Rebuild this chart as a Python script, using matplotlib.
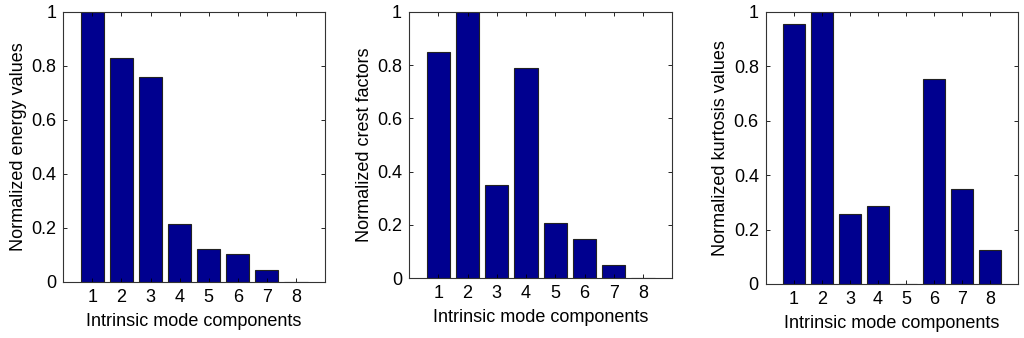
import numpy as np
import matplotlib
matplotlib.use("Agg")
import matplotlib.pyplot as plt

# =========================
# DATA
# =========================
components = [1, 2, 3, 4, 5, 6, 7, 8]
energy = [1.0, 0.827, 0.759, 0.212, 0.120, 0.102, 0.043, 0.0]
crest = [0.848, 1.0, 0.349, 0.788, 0.209, 0.148, 0.050, 0.0]
kurtosis = [0.954, 1.0, 0.258, 0.286, 0.0, 0.753, 0.349, 0.126]

ylabels = ["Normalized energy values",
           "Normalized crest factors",
           "Normalized kurtosis values"]
xlabel = "Intrinsic mode components"

BAR_COLOR = "#00008F"

plt.rcParams["font.family"] = ["Liberation Sans", "DejaVu Sans"]

fig = plt.figure(figsize=(10.24, 3.38), dpi=100)
W, H = 1024.0, 338.0
# axes boxes in pixels: left, top, right, bottom
boxes = [(63.3, 11.7, 325.0, 281.7),
         (409.0, 11.7, 672.3, 278.3),
         (765.7, 11.7, 1018.3, 284.0)]

for (l, t, r, b), vals, yl in zip(boxes, [energy, crest, kurtosis], ylabels):
    ax = fig.add_axes([l / W, 1 - b / H, (r - l) / W, (b - t) / H])
    ax.bar(components, vals, width=0.8, color=BAR_COLOR,
           edgecolor="#222222", linewidth=0.8)
    ax.set_xlim(0, 9)
    ax.set_ylim(0, 1)
    ax.set_xticks(components)
    ax.set_yticks([0, 0.2, 0.4, 0.6, 0.8, 1])
    ax.set_yticklabels(["0", "0.2", "0.4", "0.6", "0.8", "1"])
    ax.tick_params(direction="in", top=True, right=True, length=3,
                   width=0.6, labelsize=13, pad=5)
    for s in ax.spines.values():
        s.set_linewidth(0.8)
        s.set_color("#333333")
    ax.set_xlabel(xlabel, fontsize=13, labelpad=5)
    ax.set_ylabel(yl, fontsize=13, labelpad=3)

fig.savefig("out.png", dpi=100)
